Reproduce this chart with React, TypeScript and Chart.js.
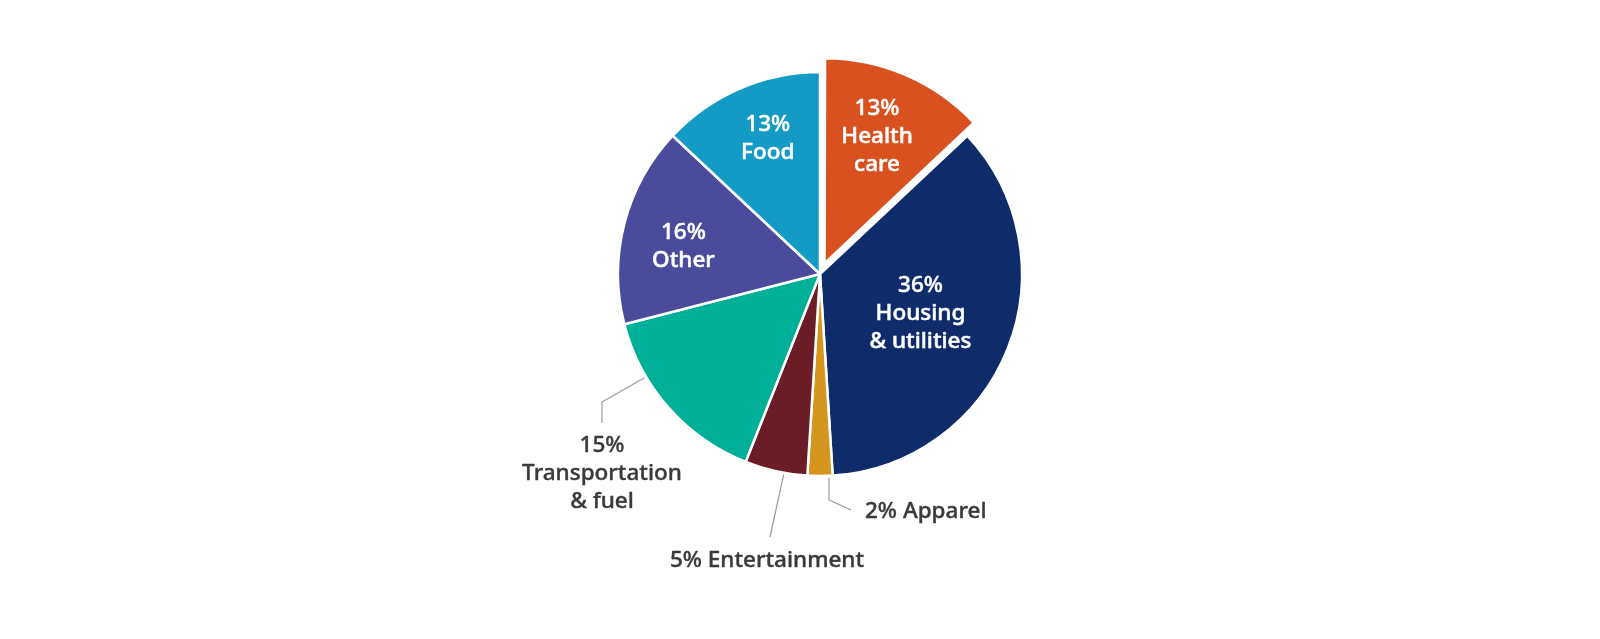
import React, { useEffect, useRef } from "react";
import { Chart, registerables } from "chart.js";

Chart.register(...registerables);

// ---- data ----
const categories = ["Health care", "Housing & utilities", "Apparel", "Entertainment", "Transportation & fuel", "Other", "Food"];
const shares = [13, 36, 2, 5, 15, 16, 13];
const labelLines: string[][] = [
  ["13%", "Health", "care"],
  ["36%", "Housing", "& utilities"],
  ["2% Apparel"],
  ["5% Entertainment"],
  ["15%", "Transportation", "& fuel"],
  ["16%", "Other"],
  ["13%", "Food"],
];
const colors = ["#D9511F", "#0E2C6A", "#D4961F", "#6A1D26", "#00AF97", "#4A4B9B", "#139AC5"];
const offsets = [46, 0, 0, 0, 0, 0, 0];

// inside label placement (fraction across slice, fraction of radius)
const insideLabels: Record<number, { t: number; rf: number }> = {
  0: { t: 0.48, rf: 0.68 },
  1: { t: 0.5, rf: 0.535 },
  5: { t: 0.45, rf: 0.69 },
  6: { t: 0.55, rf: 0.72 },
};

const FONT_FAMILY = '"Noto Sans", "Open Sans", sans-serif';

function medText(ctx: CanvasRenderingContext2D, s: string, x: number, y: number, color: string, w: number) {
  ctx.fillStyle = color;
  ctx.strokeStyle = color;
  ctx.lineWidth = w;
  ctx.lineJoin = "round";
  ctx.strokeText(s, x, y);
  ctx.fillText(s, x, y);
}

const labelPlugin = {
  id: "sliceLabels",
  afterDatasetsDraw(chart: any) {
    const ctx = chart.ctx as CanvasRenderingContext2D;
    const meta = chart.getDatasetMeta(0);
    ctx.save();
    meta.data.forEach((arc: any, i: number) => {
      const p = arc.getProps(["x", "y", "startAngle", "endAngle", "outerRadius"], true);
      const half = (p.startAngle + p.endAngle) / 2;
      const d = (offsets[i] || 0) / 4;
      const cx = p.x + Math.cos(half) * d;
      const cy = p.y + Math.sin(half) * d;
      const R = p.outerRadius;
      const lines = labelLines[i];
      const lh = 28;
      if (insideLabels[i]) {
        const { t, rf } = insideLabels[i];
        const a = p.startAngle + t * (p.endAngle - p.startAngle);
        const lx = cx + Math.cos(a) * R * rf;
        const ly = cy + Math.sin(a) * R * rf;
        ctx.font = `500 22.5px ${FONT_FAMILY}`;
        ctx.textAlign = "center";
        ctx.textBaseline = "middle";
        const top = ly - ((lines.length - 1) * lh) / 2;
        lines.forEach((s, k) => medText(ctx, s, lx, top + k * lh, "#ffffff", 0.5));
        return;
      }
      ctx.font = `500 22.5px ${FONT_FAMILY}`;
      ctx.textBaseline = "middle";
      const line = (pts: number[][]) => {
        ctx.strokeStyle = "#9b9b9b";
        ctx.lineWidth = 1.2;
        ctx.beginPath();
        ctx.moveTo(pts[0][0], pts[0][1]);
        for (let k = 1; k < pts.length; k++) ctx.lineTo(pts[k][0], pts[k][1]);
        ctx.stroke();
      };
      const txt = "#3a3a3a";
      if (i === 4) {
        const a = p.startAngle + 0.7 * (p.endAngle - p.startAngle);
        const sx = cx + Math.cos(a) * (R + 2);
        const sy = cy + Math.sin(a) * (R + 2);
        line([[sx, sy], [cx - 218, cy + 128], [cx - 218, cy + 149]]);
        ctx.textAlign = "center";
        lines.forEach((s, k) => medText(ctx, s, cx - 218, cy + 172 + k * lh, txt, 0.4));
      } else if (i === 3) {
        const a = p.startAngle + 0.37 * (p.endAngle - p.startAngle);
        const sx = cx + Math.cos(a) * (R + 2);
        const sy = cy + Math.sin(a) * (R + 2);
        line([[sx, sy], [cx - 50, cy + 263]]);
        ctx.textAlign = "center";
        medText(ctx, lines[0], cx - 53, cy + 287, txt, 0.4);
      } else if (i === 2) {
        const a = p.startAngle + 0.15 * (p.endAngle - p.startAngle);
        const sx = cx + Math.cos(a) * (R + 2);
        const sy = cy + Math.sin(a) * (R + 2);
        line([[sx, sy], [sx, cy + 226], [cx + 31, cy + 236]]);
        ctx.textAlign = "left";
        medText(ctx, lines[0], cx + 45, cy + 238, txt, 0.4);
      }
    });
    ctx.restore();
  },
};

export default function App() {
  const ref = useRef<HTMLCanvasElement | null>(null);
  useEffect(() => {
    if (!ref.current) return;
    const chart = new Chart(ref.current, {
      type: "pie",
      data: {
        labels: categories,
        datasets: [
          {
            data: shares,
            backgroundColor: colors,
            borderColor: "#ffffff",
            borderWidth: 2.5,
            offset: offsets,
            radius: 202,
          } as any,
        ],
      },
      options: {
        responsive: false,
        animation: false,
        layout: { padding: { left: 40, right: 0, top: 0, bottom: 91 } },
        plugins: { legend: { display: false }, tooltip: { enabled: false } },
        events: [],
      },
      plugins: [labelPlugin],
    });
    return () => chart.destroy();
  }, []);
  return (
    <div style={{ position: "fixed", left: 0, top: 0, width: 1600, height: 639, background: "#fff" }}>
      <canvas ref={ref} width={1600} height={639} style={{ width: 1600, height: 639, display: "block" }} />
    </div>
  );
}
